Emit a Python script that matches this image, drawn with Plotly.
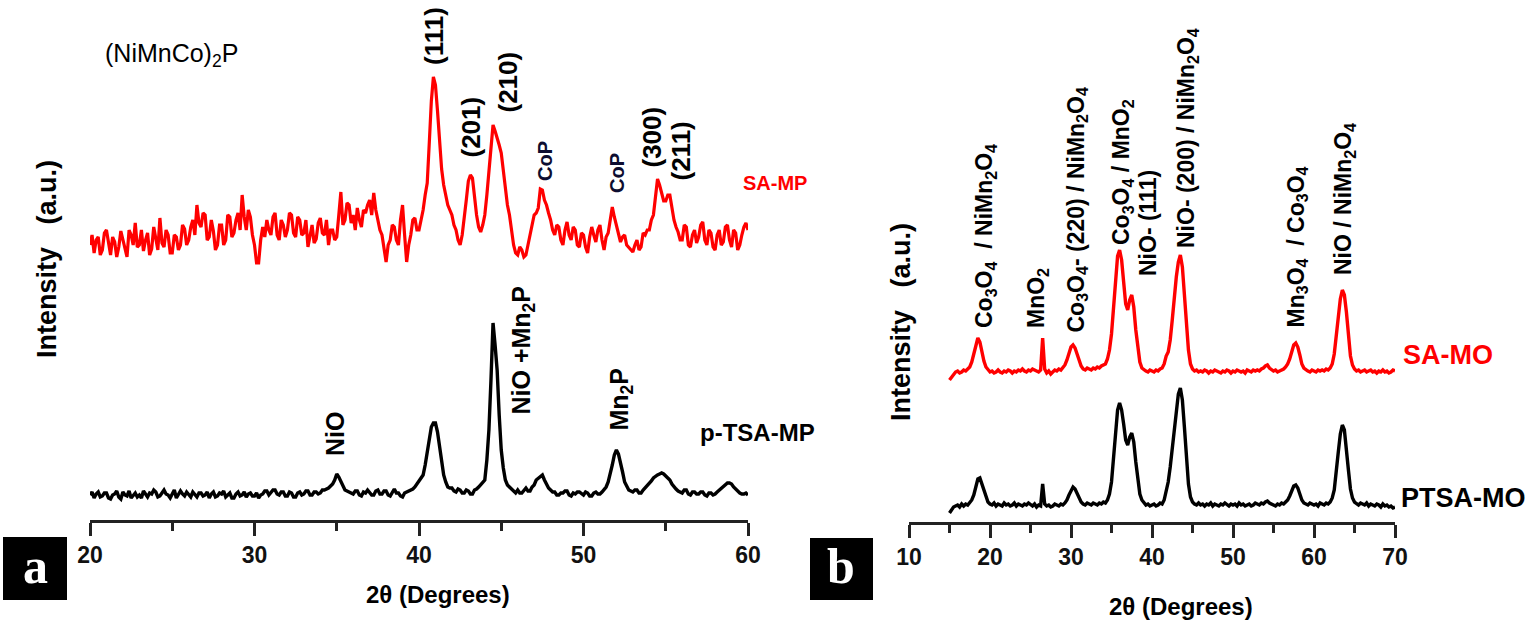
import numpy as np
import plotly.graph_objects as go

W, H = 1536, 626

# ---------------- data ----------------
# sampling grids (2theta, degrees)
two_theta_a = np.round(np.arange(20, 60.001, 0.125), 3)
two_theta_b = np.round(np.arange(15, 70.001, 0.25), 2)

# Panel a : SA-MP (red) raw intensity, a.u. (one row = one degree)
sa_mp = [
    30, 40, 22, 35, 38, 20, 25, 42,
    45, 30, 20, 38, 33, 18, 28, 44,
    36, 25, 18, 45, 40, 30, 52, 28,
    30, 45, 24, 35, 42, 20, 26, 48,
    35, 25, 57, 32, 28, 45, 40, 22,
    22, 40, 38, 25, 30, 50, 46, 30,
    35, 48, 55, 40, 70, 52, 48, 62,
    60, 35, 38, 55, 44, 25, 30, 50,
    50, 30, 35, 60, 58, 38, 42, 55,
    62, 45, 80, 58, 45, 65, 58, 40,
    30, 12, 12, 35, 48, 38, 55, 45,
    40, 58, 62, 40, 35, 55, 50, 38,
    45, 62, 60, 42, 38, 58, 55, 40,
    42, 55, 28, 40, 50, 32, 36, 52,
    57, 42, 40, 55, 30, 45, 45, 35,
    38, 60, 83, 50, 55, 72, 70, 52,
    60, 45, 67, 55, 48, 65, 62, 70,
    75, 60, 82, 65, 55, 45, 40, 25,
    13, 30, 35, 50, 48, 35, 30, 55,
    70, 40, 13, 30, 40, 55, 57, 45,
    45, 55, 65, 80, 92, 132, 174, 198,
    190, 164, 132, 106, 90, 78, 70, 65,
    60, 50, 45, 35, 30, 40, 55, 75,
    94, 100, 97, 75, 60, 48, 43, 50,
    60, 80, 102, 128, 150, 144, 138, 130,
    122, 105, 85, 70, 60, 45, 30, 22,
    20, 28, 25, 18, 20, 30, 40, 50,
    60, 62, 67, 86, 85, 75, 70, 62,
    55, 45, 40, 50, 48, 35, 30, 45,
    53, 40, 35, 48, 45, 30, 28, 42,
    40, 28, 22, 38, 48, 40, 33, 45,
    50, 35, 25, 38, 42, 55, 68, 58,
    50, 40, 33, 38, 40, 30, 28, 25,
    23, 30, 35, 25, 28, 42, 40, 45,
    45, 55, 60, 78, 96, 90, 82, 74,
    74, 80, 80, 65, 55, 48, 43, 35,
    35, 50, 48, 30, 28, 40, 45, 32,
    38, 50, 53, 35, 30, 45, 42, 28,
    25, 40, 45, 30, 33, 48, 50, 35,
    28, 45, 42, 25, 30, 40, 48, 52,
    45,
]

# Panel a : p-TSA-MP (black) raw intensity, a.u.
ptsa_mp = [
    25, 28, 22, 26, 28, 23, 24, 27,
    27, 22, 21, 25, 26, 29, 23, 21,
    28, 25, 24, 29, 22, 25, 27, 23,
    25, 22, 29, 26, 23, 27, 26, 30,
    28, 23, 24, 27, 30, 26, 25, 22,
    27, 30, 22, 25, 29, 26, 24, 28,
    26, 23, 28, 25, 23, 27, 27, 24,
    25, 28, 22, 26, 28, 23, 24, 27,
    26, 29, 23, 25, 27, 22, 22, 26,
    28, 24, 25, 28, 23, 26, 27, 24,
    24, 27, 22, 25, 26, 29, 29, 25,
    27, 30, 30, 26, 25, 28, 28, 24,
    24, 28, 27, 23, 23, 27, 28, 25,
    26, 29, 29, 25, 25, 28, 28, 26,
    27, 30, 30, 31, 32, 34, 36, 40,
    46, 43, 38, 33, 30, 29, 28, 27,
    26, 29, 29, 25, 24, 28, 27, 30,
    28, 25, 25, 29, 30, 26, 26, 29,
    29, 25, 24, 28, 31, 27, 27, 24,
    23, 27, 28, 29, 30, 31, 33, 36,
    38, 41, 45, 55, 68, 82, 93, 97,
    97, 88, 72, 58, 45, 38, 33, 32,
    32, 29, 28, 31, 30, 27, 27, 30,
    29, 26, 26, 30, 31, 33, 35, 37,
    40, 60, 90, 140, 197, 175, 150, 105,
    70, 52, 40, 35, 33, 30, 28, 27,
    30, 27, 27, 30, 32, 29, 29, 33,
    35, 40, 42, 44, 45, 40, 35, 32,
    30, 28, 28, 25, 25, 27, 27, 29,
    29, 25, 24, 27, 26, 28, 28, 26,
    25, 28, 27, 24, 24, 27, 28, 26,
    26, 28, 30, 33, 38, 45, 55, 65,
    70, 66, 58, 48, 38, 33, 30, 29,
    28, 30, 30, 27, 27, 30, 32, 34,
    36, 39, 42, 44, 45, 46, 47, 46,
    44, 42, 40, 36, 33, 31, 29, 28,
    27, 30, 30, 26, 25, 28, 28, 26,
    26, 28, 28, 25, 24, 27, 27, 25,
    26, 28, 30, 32, 33, 35, 37, 37,
    36, 33, 31, 28, 27, 26, 26, 27,
    25,
]

# Panel b : SA-MO (red) raw intensity, a.u.
sa_mo = [
    12, 15, 18, 20,  21, 19, 20, 22,  21, 23, 25, 30,  38, 48, 54, 50,
    40, 31, 25, 22,  20, 21, 19, 20,  22, 20, 19, 21,  20, 22, 21, 19,
    21, 20, 22, 21,  23, 21, 20, 22,  21, 23, 22, 21,  20, 22, 54, 23,
    19, 21, 18, 20,  22, 21, 23, 22,  24, 27, 32, 40,  45, 47, 44, 38,
    31, 26, 23, 22,  24, 23, 22, 24,  23, 25, 24, 26,  27, 28, 33, 42,
    58, 85, 115, 136, 142, 132, 110, 88, 82, 92, 97, 85, 62, 42, 30, 24,
    22, 21, 20, 22,  21, 20, 22, 21,  23, 24, 28, 36,  40, 52, 72, 95,
    115, 130, 137, 125, 100, 68, 42, 28, 23, 21, 22, 20, 21, 20, 22, 21,
    19, 21, 20, 22,  21, 20, 19, 21,  20, 22, 21, 19,  21, 20, 22, 21,
    20, 21, 19, 22,  21, 20, 22, 21,  22, 21, 23, 24,  26, 27, 24, 22,
    21, 22, 20, 21,  22, 23, 25, 28,  33, 40, 47, 49,  45, 37, 28, 24,
    22, 21, 20, 22,  21, 20, 22, 21,  22, 21, 23, 22,  24, 28, 38, 55,
    75, 93, 102, 97, 80, 56, 36, 27,  23, 21, 22, 20,  21, 22, 20, 21,
    22, 20, 21, 19,  21, 20, 22, 20,  21, 19, 20, 22,
    21,
]

# Panel b : PTSA-MO (black) raw intensity, a.u.
ptsa_mo = [
    9, 12, 15, 16,   17, 15, 18, 16,  18, 17, 19, 22,  27, 35, 43, 44,
    38, 30, 24, 20,  18, 17, 19, 16,  18, 17, 16, 19,  17, 18, 16, 17,
    19, 16, 18, 17,  16, 18, 17, 19,  17, 16, 18, 15,  17, 16, 38, 18,
    16, 17, 15, 16,  18, 17, 16, 18,  17, 19, 22, 27,  32, 35, 33, 28,
    23, 20, 18, 17,  19, 18, 17, 19,  18, 17, 19, 18,  20, 19, 22, 28,
    40, 62, 90, 112, 119, 112, 98, 82, 77, 85, 89, 80, 60, 40, 28, 22,
    19, 17, 18, 16,  17, 18, 16, 17,  19, 18, 22, 30,  40, 55, 75, 95,
    110, 128, 134, 122, 95, 62, 38, 25, 20, 18, 17, 19, 17, 18, 16, 18,
    17, 19, 16, 18,  17, 16, 18, 17,  19, 17, 16, 18,  17, 18, 16, 19,
    17, 18, 16, 17,  18, 16, 17, 19,  18, 17, 19, 18,  20, 21, 19, 18,
    17, 16, 18, 17,  19, 18, 20, 22,  26, 32, 36, 37,  34, 28, 22, 19,
    18, 17, 19, 18,  17, 18, 16, 19,  18, 17, 19, 18,  20, 24, 32, 48,
    70, 88, 97, 92,  75, 52, 33, 24,  20, 18, 17, 19,  18, 17, 19, 16,
    18, 17, 16, 18,  17, 15, 18, 16,  17, 15, 16, 14,
    15,
]

assert len(sa_mp) == len(two_theta_a), len(sa_mp)
assert len(ptsa_mp) == len(two_theta_a), len(ptsa_mp)
assert len(sa_mo) == len(two_theta_b), len(sa_mo)
assert len(ptsa_mo) == len(two_theta_b), len(ptsa_mo)

# vertical stacking offsets (a.u.)
offset_sa_mp = 245
offset_sa_mo = 130

ticks_a = [20, 30, 40, 50, 60]
ticks_b = [10, 20, 30, 40, 50, 60, 70]

# ---------------- figure ----------------
RED = "#ff0000"
AX = "#222222"
SANS = "Liberation Sans, Arial"


def px(x):
    return x / W


def py(y):
    return 1 - y / H


fig = go.Figure()
fig.add_trace(go.Scatter(x=two_theta_a, y=np.array(ptsa_mp), mode="lines",
                         line=dict(color="black", width=3.4), xaxis="x", yaxis="y"))
fig.add_trace(go.Scatter(x=two_theta_a, y=np.array(sa_mp) + offset_sa_mp, mode="lines",
                         line=dict(color=RED, width=3.2), xaxis="x", yaxis="y"))
fig.add_trace(go.Scatter(x=two_theta_b, y=np.array(ptsa_mo), mode="lines",
                         line=dict(color="black", width=3.4), xaxis="x2", yaxis="y2"))
fig.add_trace(go.Scatter(x=two_theta_b, y=np.array(sa_mo) + offset_sa_mo, mode="lines",
                         line=dict(color=RED, width=3.4), xaxis="x2", yaxis="y2"))

tickfont = dict(family=SANS, size=23, color="#111", weight="bold")


def xaxis_cfg(domain, rng, ticks, anchor):
    return dict(domain=domain, range=rng, anchor=anchor, tickvals=ticks,
                showline=True, linecolor=AX, linewidth=2.5, automargin=False,
                ticks="outside", ticklen=13, tickwidth=2.5, tickcolor=AX,
                tickfont=tickfont, showgrid=False, zeroline=False,
                minor=dict(dtick=5, ticks="outside", ticklen=8, tickwidth=2.5,
                           tickcolor=AX, showgrid=False))


fig.update_layout(
    width=W, height=H, autosize=False,
    margin=dict(l=0, r=0, t=0, b=0, pad=0, autoexpand=False),
    paper_bgcolor="white", plot_bgcolor="white", showlegend=False,
    xaxis=xaxis_cfg([px(90), px(748)], [20, 60], ticks_a, "y"),
    yaxis=dict(domain=[py(520), 1], range=[0, 520], visible=False, automargin=False),
    xaxis2=xaxis_cfg([px(909), px(1395)], [10, 70], ticks_b, "y2"),
    yaxis2=dict(domain=[py(522), 1], range=[0, 522], visible=False, automargin=False),
)

ann = []


def vlabel(text, cx, ybot, size=25, color="black"):
    ann.append(dict(text=text, x=px(cx), y=py(ybot), xref="paper", yref="paper",
                    xanchor="center", yanchor="bottom", textangle=-90, showarrow=False,
                    font=dict(family=SANS, size=size, color=color, weight="bold")))


def hlabel(text, left, cy, size=24, color="black", weight="bold", family=SANS):
    ann.append(dict(text=text, x=px(left), y=py(cy), xref="paper", yref="paper",
                    xanchor="left", yanchor="middle", showarrow=False,
                    font=dict(family=family, size=size, color=color, weight=weight)))


def clabel(text, cx, cy, size, family, color="black", weight="bold", angle=0):
    ann.append(dict(text=text, x=px(cx), y=py(cy), xref="paper", yref="paper",
                    xanchor="center", yanchor="middle", showarrow=False, textangle=angle,
                    font=dict(family=family, size=size, color=color, weight=weight)))


# panel a peak labels
vlabel("(111)", 434, 67, 26)
vlabel("(201)", 470, 160, 26)
vlabel("(210)", 507, 115, 26)
vlabel("CoP", 545, 183, 20, "#0d0d30")
vlabel("CoP", 617, 195, 20, "#0d0d30")
vlabel("(300)", 652, 170, 26)
vlabel("(211)", 680, 183, 26)
vlabel("NiO", 335, 458, 25)
vlabel("NiO +Mn<sub>2</sub>P", 522, 417, 25)
vlabel("Mn<sub>2</sub>P", 620, 433, 25)

hlabel("(NiMnCo)<sub>2</sub>P", 103, 55, 25, "black", "normal")
hlabel("SA-MP", 741, 183, 20, RED)
hlabel("p-TSA-MP", 698, 432, 24)

# panel b peak labels
vlabel("Co<sub>3</sub>O<sub>4</sub>\u00a0 / NiMn<sub>2</sub>O<sub>4</sub>", 985, 330, 23)
vlabel("MnO<sub>2</sub>", 1037, 330, 23)
vlabel("Co<sub>3</sub>O<sub>4</sub>- (220) / NiMn<sub>2</sub>O<sub>4</sub>", 1077, 335, 23)
vlabel("Co<sub>3</sub>O<sub>4</sub> / MnO<sub>2</sub>", 1122, 247, 23)
vlabel("NiO- (111)", 1148, 278, 23)
vlabel("NiO- (200) / NiMn<sub>2</sub>O<sub>4</sub>", 1188, 250, 23)
vlabel("Mn<sub>3</sub>O<sub>4</sub>\u00a0 / Co<sub>3</sub>O<sub>4</sub>", 1297, 330, 23)
vlabel("NiO / NiMn<sub>2</sub>O<sub>4</sub>", 1345, 277, 23)

hlabel("SA-MO", 1401, 355, 27, RED)
hlabel("PTSA-MO", 1399, 498, 27)

# axis titles
ytitle = "Intensity\u00a0\u00a0\u00a0(a.u.)"
clabel(ytitle, 47, 259, 27, SANS, angle=-90)
clabel(ytitle, 901, 322, 27, SANS, angle=-90)
clabel("2\u03b8 (Degrees)", 438, 594, 24, SANS)
clabel("2\u03b8 (Degrees)", 1181, 606, 24, SANS)

# panel letters
clabel("a", 35, 566, 50, "Liberation Serif, Times New Roman", color="white")
clabel("b", 841, 566, 50, "Liberation Serif, Times New Roman", color="white")

fig.update_layout(
    annotations=ann,
    shapes=[
        dict(type="rect", xref="paper", yref="paper", x0=px(3), x1=px(67),
             y0=py(600), y1=py(537), fillcolor="black", line=dict(width=0), layer="below"),
        dict(type="rect", xref="paper", yref="paper", x0=px(810), x1=px(873),
             y0=py(600), y1=py(538), fillcolor="black", line=dict(width=0), layer="below"),
    ],
)

fig.write_html(
    "out.html",
    config={"displayModeBar": False, "responsive": False},
    post_script="document.body.style.margin='0px';document.body.style.overflow='hidden';",
)
